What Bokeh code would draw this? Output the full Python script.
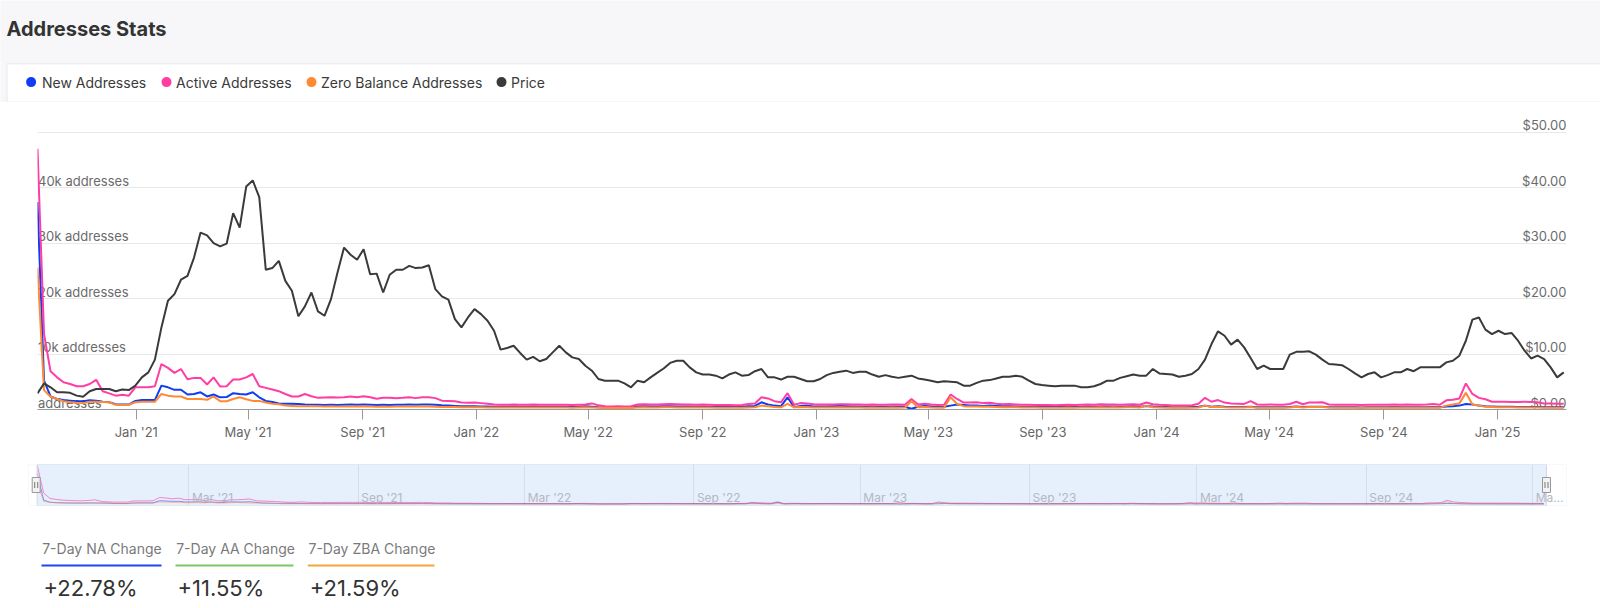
from datetime import datetime, timedelta
from bokeh.plotting import figure
from bokeh.models import Range1d, FixedTicker, DatetimeTickFormatter, Grid, ColumnDataSource
from bokeh.layouts import column
from bokeh.embed import file_html
from bokeh.resources import INLINE
from bokeh.core.properties import value

# ---------------- data ----------------
title_text = "Addresses Stats"
series_names = ["New Addresses", "Active Addresses", "Zero Balance Addresses", "Price"]
series_colors = ["#0f3cf5", "#ff3da5", "#ff8a33", "#3a3a3a"]

first_week = datetime(2020, 9, 17)   # weekly observations

price = [
    2.9, 4.7, 4.0, 3.1, 3.1, 3.0, 2.5, 2.3, 3.3, 3.7,
    3.7, 3.7, 3.3, 3.6, 3.5, 4.3, 5.8, 6.7, 9.0, 14.8,
    19.6, 20.8, 23.4, 24.1, 27.4, 31.9, 31.4, 30.0, 29.4, 29.9,
    35.4, 32.8, 40.2, 41.3, 38.3, 25.2, 25.5, 26.8, 23.2, 21.4,
    16.8, 18.6, 21.1, 17.7, 16.9, 19.9, 24.7, 29.2, 27.9, 27.0,
    28.9, 24.4, 24.5, 21.1, 24.3, 25.2, 25.2, 25.9, 25.5, 25.6,
    26.0, 21.7, 20.4, 19.8, 16.3, 14.8, 16.6, 18.1, 17.2, 16.0,
    14.2, 10.8, 11.1, 11.5, 10.2, 9.0, 9.5, 8.7, 9.1, 10.3,
    11.5, 10.3, 9.4, 9.1, 7.9, 7.0, 5.5, 5.2, 5.2, 5.2,
    4.7, 4.0, 5.2, 4.9, 5.8, 6.6, 7.4, 8.4, 8.8, 8.8,
    7.6, 6.7, 6.3, 6.3, 6.1, 5.6, 6.3, 6.7, 6.1, 6.2,
    6.9, 7.3, 5.8, 5.8, 5.4, 5.9, 5.9, 5.5, 5.1, 5.1,
    5.5, 6.2, 6.6, 6.8, 7.0, 6.6, 6.8, 6.8, 6.3, 5.9,
    6.2, 5.9, 5.7, 5.9, 6.1, 5.6, 5.4, 5.2, 4.9, 5.1,
    5.0, 4.9, 4.3, 4.3, 4.8, 5.2, 5.3, 5.6, 5.9, 5.9,
    6.1, 5.9, 5.2, 4.6, 4.4, 4.3, 4.2, 4.3, 4.3, 4.3,
    4.0, 4.0, 4.2, 4.6, 5.2, 5.2, 5.7, 6.0, 6.3, 6.1,
    6.1, 7.3, 6.5, 6.4, 6.3, 5.9, 6.1, 6.4, 7.3, 9.0,
    11.8, 14.1, 13.3, 11.7, 12.6, 11.2, 9.3, 7.3, 7.9, 7.3,
    7.3, 7.3, 9.9, 10.4, 10.4, 10.5, 9.9, 9.0, 8.2, 8.1,
    8.0, 7.3, 6.5, 5.8, 6.4, 6.7, 5.8, 6.2, 6.7, 6.7,
    7.3, 6.9, 7.6, 7.6, 7.6, 7.6, 8.5, 8.8, 9.7, 12.4,
    16.2, 16.6, 14.4, 13.6, 14.2, 13.6, 13.8, 12.4, 10.6, 9.2,
    9.7, 9.1, 7.6, 5.8, 6.7,
]

active_addresses = [
    47000, 13600, 6900, 5800, 4900, 4600, 4200, 4200, 4600, 5350,
    3300, 2900, 2500, 2650, 2500, 4000, 4000, 4000, 4200, 8200,
    7500, 6600, 7300, 5450, 5700, 5700, 4500, 5800, 4150, 4200,
    5400, 5400, 5800, 6400, 4200, 3900, 3600, 3300, 2800, 2350,
    2350, 2800, 2400, 2100, 2150, 2200, 2150, 2200, 2350, 2200,
    2400, 2200, 1950, 2100, 2100, 2050, 2100, 2200, 2050, 2200,
    2200, 2050, 1600, 1550, 1500, 1250, 1200, 1250, 1150, 1050,
    900, 850, 850, 900, 850, 850, 900, 850, 850, 850,
    850, 850, 800, 850, 900, 1100, 750, 600, 550, 600,
    550, 600, 900, 950, 900, 900, 950, 1000, 950, 900,
    900, 850, 900, 850, 800, 800, 800, 750, 800, 1000,
    1100, 2200, 2000, 1500, 1300, 2950, 850, 1150, 1100, 950,
    900, 900, 900, 950, 950, 900, 900, 850, 900, 850,
    850, 900, 900, 850, 1900, 900, 1050, 900, 800, 850,
    2700, 1900, 1250, 1250, 1300, 1150, 1200, 1050, 950, 1000,
    900, 850, 850, 800, 800, 800, 750, 800, 850, 800,
    850, 900, 850, 950, 900, 900, 850, 900, 950, 850,
    1250, 950, 850, 800, 700, 700, 700, 750, 1050, 2100,
    1400, 1700, 1250, 1100, 1050, 1000, 1500, 900, 850, 900,
    850, 850, 1000, 1400, 950, 1250, 1250, 1300, 900, 850,
    850, 850, 850, 800, 850, 850, 850, 850, 900, 850,
    900, 850, 850, 900, 1000, 850, 1650, 1750, 2000, 4700,
    2800, 2100, 1850, 1400, 1400, 1400, 1350, 1350, 1400, 1350,
    1300, 1100, 1100, 1050, 1050,
]

new_addresses = [
    37400, 5200, 2350, 1900, 1700, 1600, 1500, 1500, 1650, 1600,
    1400, 1300, 950, 900, 900, 1550, 1700, 1700, 1700, 4300,
    4000, 3550, 3550, 2700, 2800, 3100, 2350, 2700, 2200, 2250,
    2950, 2800, 2700, 3100, 2200, 1550, 1350, 1100, 1050, 1050,
    1000, 900, 850, 850, 800, 850, 800, 850, 900, 850,
    900, 850, 800, 850, 800, 850, 850, 900, 850, 900,
    900, 850, 750, 700, 650, 600, 600, 600, 550, 550,
    500, 500, 500, 550, 500, 500, 550, 500, 500, 500,
    500, 500, 450, 500, 600, 500, 400, 350, 300, 350,
    300, 350, 550, 600, 550, 550, 600, 600, 550, 550,
    550, 500, 550, 500, 500, 500, 500, 450, 500, 600,
    650, 1300, 900, 700, 600, 2200, 400, 650, 700, 550,
    550, 550, 600, 650, 600, 550, 550, 500, 550, 500,
    500, 550, 550, 500, 150, 500, 650, 550, 450, 500,
    700, 900, 800, 700, 700, 650, 700, 650, 600, 600,
    550, 500, 500, 500, 450, 450, 450, 500, 500, 450,
    500, 550, 500, 550, 550, 550, 500, 550, 600, 500,
    650, 550, 500, 450, 400, 400, 400, 450, 500, 700,
    500, 600, 500, 450, 450, 450, 500, 400, 400, 400,
    400, 400, 450, 550, 450, 500, 500, 500, 400, 400,
    400, 400, 400, 350, 400, 400, 400, 400, 450, 400,
    400, 400, 400, 400, 450, 400, 550, 600, 700, 1000,
    900, 700, 600, 550, 500, 500, 500, 450, 450, 450,
    450, 400, 400, 400, 400,
]

zero_balance_addresses = [
    25600, 3500, 2300, 1900, 1500, 1300, 1200, 1150, 1400, 1400,
    1350, 1300, 850, 800, 850, 1300, 1400, 1400, 1400, 2800,
    2500, 2350, 2350, 1900, 1900, 1900, 1750, 2350, 1500, 1500,
    1900, 2200, 1850, 1550, 1550, 1250, 1050, 950, 700, 650,
    600, 600, 650, 600, 550, 600, 550, 550, 600, 550,
    600, 550, 500, 550, 500, 550, 550, 600, 550, 600,
    550, 500, 450, 450, 450, 400, 400, 400, 400, 350,
    350, 350, 350, 350, 350, 350, 350, 350, 350, 350,
    350, 350, 300, 350, 400, 350, 300, 250, 250, 250,
    250, 250, 350, 400, 350, 350, 400, 400, 350, 350,
    350, 350, 350, 350, 300, 300, 300, 300, 300, 350,
    400, 700, 600, 450, 400, 1000, 400, 450, 400, 350,
    350, 350, 350, 400, 350, 350, 350, 300, 350, 300,
    300, 350, 300, 350, 1500, 400, 450, 350, 300, 300,
    2200, 1000, 600, 550, 550, 500, 500, 450, 400, 400,
    400, 350, 350, 350, 300, 300, 300, 300, 350, 300,
    350, 350, 350, 400, 350, 400, 350, 400, 400, 350,
    700, 400, 350, 300, 300, 300, 300, 300, 350, 700,
    450, 500, 400, 350, 350, 350, 450, 300, 300, 300,
    300, 300, 350, 500, 350, 450, 450, 450, 350, 300,
    300, 300, 300, 300, 300, 300, 300, 300, 350, 300,
    300, 300, 300, 300, 350, 300, 700, 900, 1100, 3000,
    900, 700, 500, 450, 400, 400, 400, 350, 350, 350,
    350, 300, 300, 300, 300,
]

addr_ticks = [0, 10000, 20000, 30000, 40000]
addr_tick_labels = ["addresses", "10k addresses", "20k addresses", "30k addresses", "40k addresses"]
price_ticks = [0, 10, 20, 30, 40, 50]
price_tick_labels = ["$0.00", "$10.00", "$20.00", "$30.00", "$40.00", "$50.00"]

x_tick_dates = [datetime(y, m, 1) for y in (2021, 2022, 2023, 2024) for m in (1, 5, 9)] + [datetime(2025, 1, 1)]
nav_tick_dates = [datetime(y, m, 1) for y in (2021, 2022, 2023, 2024) for m in (3, 9)] + [datetime(2025, 3, 1)]
nav_tick_labels = ["Mar '21", "Sep '21", "Mar '22", "Sep '22", "Mar '23", "Sep '23", "Mar '24", "Sep '24", "Ma\u2026"]

stat_labels = ["7-Day NA Change", "7-Day AA Change", "7-Day ZBA Change"]
stat_values = ["+22.78%", "+11.55%", "+21.59%"]
stat_colors = ["#1f45ee", "#7ac862", "#f5a63a"]

# ---------------- layout / style ----------------
FONT = "Inter"
PAGE_BG = "#f7f7f9"
W = 1600

n = min(len(price), len(active_addresses), len(new_addresses), len(zero_balance_addresses))
dates = [first_week + timedelta(days=7 * i) for i in range(n)]


def ms(d):
    return (d - datetime(1970, 1, 1)).total_seconds() * 1000.0


x_start = ms(dates[0])
x_end = ms(dates[-1] + timedelta(days=3))


def deco_fig(h, bg):
    f = figure(width=W, height=h, x_range=Range1d(0, W), y_range=Range1d(h, 0),
               x_axis_location=None, y_axis_location=None, toolbar_location=None,
               output_backend="svg", min_border=0, outline_line_color=None,
               background_fill_color=bg, border_fill_color=bg, frame_align=False)
    f.grid.visible = False
    return f


# ---- header: title + legend ----
HH = 102
hdr = deco_fig(HH, PAGE_BG)
hdr.quad(left=[6.5], right=[W + 5], top=[63.3], bottom=[HH + 5], fill_color="white",
         line_color="#e8e8ee")
hdr.segment(x0=[6.5], y0=[101.5], x1=[W], y1=[101.5], line_color="#ececf0", line_width=1)
hdr.text(x=[6], y=[28.5], text=[title_text], text_font=value(FONT), text_font_size="20px",
         text_font_style="bold", text_color="#333333", text_baseline="middle", text_align="left")
legend_dot_x = [30.6, 166, 311, 501]
legend_text_x = [41.5, 175.5, 320.5, 510.5]
hdr.scatter(x=legend_dot_x, y=[81.6] * 4, size=10, marker="circle", fill_color=series_colors,
            line_color=None)
hdr.text(x=legend_text_x, y=[81.6] * 4, text=series_names, text_font=value(FONT),
         text_font_size="14px", text_color="#3a3a3a", text_baseline="middle", text_align="left")

# ---- main chart ----
MH = 348
M_TOP, M_BOT = 8, 41
frame_h = MH - M_TOP - M_BOT
px_per_unit = (409.0 - 131.7) / 50.0
price_top = frame_h / px_per_unit
p = figure(width=W, height=MH, x_axis_type="datetime", x_range=Range1d(x_start, x_end),
           y_range=Range1d(0, price_top * 1000), y_axis_location=None, toolbar_location=None,
           output_backend="svg", min_border_left=37, min_border_right=34,
           min_border_top=M_TOP, min_border_bottom=M_BOT, outline_line_color=None,
           background_fill_color="white", border_fill_color="white", frame_align=False)
p.extra_y_ranges = {"price": Range1d(0, price_top)}
p.xgrid.visible = False
p.ygrid.visible = False
p.add_layout(Grid(dimension=1, ticker=FixedTicker(ticks=[t * 1000 for t in price_ticks]),
                  grid_line_color="#e8e8e8", grid_line_width=1))

xa = p.xaxis[0]
xa.ticker = FixedTicker(ticks=[ms(d) for d in x_tick_dates])
xa.formatter = DatetimeTickFormatter(days="%b '%y", months="%b '%y", years="%b '%y")
xa.axis_line_color = "#9a9a9a"
xa.major_tick_line_color = "#9a9a9a"
xa.major_tick_in = 0
xa.major_tick_out = 10
xa.minor_tick_line_color = None
xa.major_label_standoff = 4
xa.major_label_text_font = FONT
xa.major_label_text_font_size = "13px"
xa.major_label_text_color = "#666666"

p.text(x=[x_start] * len(addr_ticks), y=addr_ticks, text=addr_tick_labels, text_align="left",
       text_baseline="middle", x_offset=0.5, y_offset=-7, text_font=value(FONT),
       text_font_size="13px", text_color="#6b6b6b")
p.text(x=[x_end] * len(price_ticks), y=price_ticks, text=price_tick_labels, text_align="right",
       text_baseline="middle", y_offset=-7, text_font=value(FONT), text_font_size="13px",
       text_color="#6b6b6b", y_range_name="price")

src = ColumnDataSource(dict(date=dates, new=new_addresses[:n], active=active_addresses[:n],
                            zero=zero_balance_addresses[:n], price=price[:n]))
p.line("date", "new", source=src, line_color=series_colors[0], line_width=2)
p.line("date", "active", source=src, line_color=series_colors[1], line_width=2)
p.line("date", "zero", source=src, line_color=series_colors[2], line_width=2)
p.line("date", "price", source=src, line_color=series_colors[3], line_width=2, y_range_name="price")

# ---- navigator ----
NAV_H = 65
NL, NR = 28, 34
nav_frame_w = W - NL - NR
px0, px1 = 36.7 - NL, 1546.0 - NL
scale = (px1 - px0) / (x_end - x_start)
nav_r0 = x_start - px0 / scale
nav_r1 = x_end + (nav_frame_w - px1) / scale
nav_ymin, nav_ymax = -1500, 48000
nav = figure(width=W, height=NAV_H, x_axis_type="datetime", x_range=Range1d(nav_r0, nav_r1),
             y_range=Range1d(nav_ymin, nav_ymax), x_axis_location=None, y_axis_location=None,
             toolbar_location=None, output_backend="svg", min_border_left=NL, min_border_right=NR,
             min_border_top=14, min_border_bottom=10, outline_line_color=None,
             background_fill_color="#e6effc", border_fill_color="white", frame_align=False)
nav.grid.visible = False
nav.add_layout(Grid(dimension=0, ticker=FixedTicker(ticks=[ms(d) for d in nav_tick_dates]),
                    grid_line_color="#d3ddec", grid_line_width=1))
nav.quad(left=[nav_r0, x_end], right=[x_start, nav_r1], bottom=[nav_ymin] * 2, top=[nav_ymax] * 2,
         fill_color="white", line_color=None)
nav.line("date", "active", source=src, line_color=series_colors[1], line_width=1, line_alpha=0.6)
nav.line("date", "new", source=src, line_color=series_colors[0], line_width=1, line_alpha=0.5)
nav.line("date", "zero", source=src, line_color=series_colors[2], line_width=1, line_alpha=0.5)
nav.quad(left=[x_start], right=[x_end], bottom=[nav_ymin], top=[nav_ymax], fill_alpha=0,
         line_color="#d2d9e4", line_width=1)
nav.text(x=[ms(d) for d in nav_tick_dates], y=[nav_ymin] * len(nav_tick_dates), text=nav_tick_labels,
         text_align="left", text_baseline="middle", x_offset=3, y_offset=-8, text_font=value(FONT),
         text_font_size="12px", text_color="#b3b8c2")
nav_mid = (nav_ymin + nav_ymax) / 2
left_handle = x_start - 1.0 / scale
nav.rect(x=[left_handle, x_end], y=[nav_mid] * 2, width=8, height=15,
         width_units="screen", height_units="screen", fill_color="#f2f2f2", line_color="#999999")
grip_dx = 1.5 / scale
nav.rect(x=[left_handle - grip_dx, left_handle + grip_dx, x_end - grip_dx, x_end + grip_dx],
         y=[nav_mid] * 4, width=1, height=6, width_units="screen", height_units="screen",
         fill_color="#777777", line_color=None)

# ---- 7-day stats ----
SH = 93
st = deco_fig(SH, "white")
stat_x = [41.7, 175.7, 308.0]
stat_line_end = [161.0, 293.0, 434.0]
st.text(x=stat_x, y=[33] * 3, text=stat_labels, text_font=value(FONT), text_font_size="14px",
        text_color="#7a7a7a", text_baseline="middle", text_align="left")
st.segment(x0=[x - 0.7 for x in stat_x], y0=[50] * 3, x1=stat_line_end, y1=[50] * 3,
           line_color=stat_colors, line_width=2)
st.text(x=[x + 1.3 for x in stat_x], y=[72] * 3, text=stat_values, text_font=value(FONT),
        text_font_size="22px", text_color="#333333", text_baseline="middle", text_align="left")

page = column(hdr, p, nav, st, spacing=0)
open("out.html", "w").write(file_html(page, INLINE))
